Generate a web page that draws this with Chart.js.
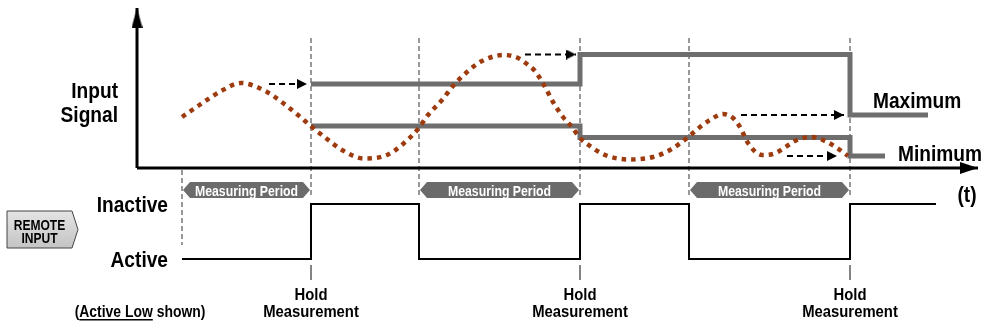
<!DOCTYPE html>
<html>
<head>
<meta charset="utf-8">
<script src="https://cdn.jsdelivr.net/npm/chart.js@4/dist/chart.umd.min.js"></script>
<style>
  html, body { margin: 0; padding: 0; background: #fff; }
</style>
</head>
<body>
<canvas id="chart" width="982" height="328"></canvas>
<script>
// time axis (t) and input signal level
const signalT = [4.5, 6.1, 8.6, 10.4, 13.0, 14.6, 16.1, 17.5, 19.0, 20.5, 22.7, 25.0, 26.6, 28.1, 29.1, 30.5, 31.6, 33.0, 34.5, 36.7, 38.1, 39.0, 39.8, 40.7, 41.6, 42.6, 43.5, 44.3, 45.3, 46.8, 49.2, 51.6, 53.3, 55.0, 56.3, 57.3, 58.6, 59.6, 60.3, 61.1, 62.5, 63.6, 65.0, 66.0, 67.5, 69.0, 70.0, 71.1];
const signalV = [5.1, 6.2, 7.8, 8.5, 7.6, 6.5, 5.3, 4.1, 2.9, 1.8, 0.95, 1.3, 2.4, 3.9, 5.3, 6.8, 8.2, 9.6, 10.7, 11.3, 11.0, 10.4, 9.7, 8.3, 6.6, 5.1, 4.1, 3.0, 2.2, 1.3, 0.85, 1.1, 1.8, 3.0, 4.1, 4.8, 5.4, 5.0, 4.1, 2.5, 1.3, 1.4, 2.2, 2.8, 3.1, 2.6, 2.0, 1.2];

const periodStart = [4.5, 28.2, 55.2];
const periodEnd = [17.4, 44.3, 71.3];

const maxT = [17.4, 44.3, 71.3, 79.1];
const maxV = [8.4, 11.35, 5.3, 5.3];
const minT = [17.4, 44.3, 71.3, 74.8];
const minV = [4.2, 3.05, 1.2, 1.2];

// dashed "carry over" arrows
const arrowFrom = [13.2, 38.8, 60.4, 65.0];
const arrowTo = [17.0, 43.9, 70.7, 70.0];
const arrowLevel = [8.4, 11.35, 5.3, 1.2];

// remote input: 0 = Active, 1 = Inactive
const remoteT = [4.5, 17.4, 28.2, 44.3, 55.2, 71.3, 79.9];
const remoteState = [0, 1, 0, 1, 0, 1, 1];
const remoteLabels = ['Active', 'Inactive'];

const FONT = '"Liberation Sans", Arial, sans-serif';
const GRAY = '#6e6e6e';

function arrowHead(len, half, color) {
  const c = document.createElement('canvas');
  c.width = len * 2;
  c.height = half * 2;
  const g = c.getContext('2d');
  g.fillStyle = color;
  g.beginPath();
  g.moveTo(0, 0);
  g.lineTo(len, half);
  g.lineTo(0, half * 2);
  g.closePath();
  g.fill();
  return c;
}
const headSmall = arrowHead(10, 5, '#000');
const headX = arrowHead(18, 6, '#000');
const headY = arrowHead(20, 5.5, '#000');

const xy = (ts, vs) => ts.map((t, i) => ({ x: t, y: vs[i] }));
const tipOnly = ctx => ctx.dataIndex === ctx.dataset.data.length - 1 ? 6 : 0;

const datasets = [];

datasets.push({
  data: xy(signalT, signalV),
  borderColor: '#9e3b0e',
  borderWidth: 4.5,
  borderDash: [4.5, 5],
  borderCapStyle: 'butt',
  cubicInterpolationMode: 'monotone',
  pointRadius: 0
});
datasets.push({ data: xy(maxT, maxV), stepped: true, borderColor: GRAY, borderWidth: 5, pointRadius: 0, borderJoinStyle: 'miter' });
datasets.push({ data: xy(minT, minV), stepped: true, borderColor: GRAY, borderWidth: 5, pointRadius: 0, borderJoinStyle: 'miter' });

arrowFrom.forEach((f, i) => {
  datasets.push({
    data: [{ x: f, y: arrowLevel[i] }, { x: arrowTo[i], y: arrowLevel[i] }],
    borderColor: '#000',
    borderWidth: 2,
    borderDash: [6, 4],
    pointStyle: headSmall,
    pointRadius: tipOnly
  });
});

datasets.push({
  data: xy(remoteT, remoteState),
  yAxisID: 'y2',
  stepped: true,
  borderColor: '#000',
  borderWidth: 2,
  pointRadius: 0
});

// axes with arrowheads
datasets.push({ data: [{ x: 0, y: 0 }, { x: 0, y: 16.0 }], borderColor: '#000', borderWidth: 3, pointStyle: headY, pointRotation: -90, pointRadius: tipOnly });
datasets.push({ data: [{ x: 0, y: 0 }, { x: 84.1, y: 0 }], borderColor: '#000', borderWidth: 3, pointStyle: headX, pointRadius: tipOnly });

// period boundaries (dashed guides) and hold ticks
periodStart.forEach((t, i) => {
  datasets.push({
    data: i === 0 ? [{ x: t, y: -0.2 }, { x: t, y: -7.7 }] : [{ x: t, y: 13.0 }, { x: t, y: -2.7 }],
    borderColor: '#555', borderWidth: 1.2, borderDash: [5, 3], pointRadius: 0
  });
});
periodEnd.forEach(t => {
  datasets.push({ data: [{ x: t, y: 13.0 }, { x: t, y: -2.7 }], borderColor: '#555', borderWidth: 1.2, borderDash: [5, 3], pointRadius: 0 });
  datasets.push({ data: [{ x: t, y: -9.7 }, { x: t, y: -11.2 }], borderColor: '#333', borderWidth: 1.2, pointRadius: 0 });
});

datasets.forEach((d, i) => { d.order = i; d.fill = false; d.tension = 0; });

// bold text squeezed horizontally to look like Arial Narrow
function label(ctx, s, x, y, align, size, narrow) {
  ctx.save();
  ctx.font = 'bold ' + size + 'px ' + FONT;
  ctx.textAlign = align;
  ctx.translate(x, y);
  ctx.scale(narrow || 0.87, 1);
  ctx.fillText(s, 0, 0);
  ctx.restore();
}

const annotate = {
  id: 'annotate',
  afterDatasetsDraw(chart) {
    const ctx = chart.ctx;
    const X = chart.scales.x, Y = chart.scales.y, Y2 = chart.scales.y2;
    const px = t => X.getPixelForValue(t);
    const py = v => Y.getPixelForValue(v);
    ctx.save();
    ctx.textBaseline = 'alphabetic';

    // measuring period badges
    periodStart.forEach((s, i) => {
      const l = px(s) + 1, r = px(periodEnd[i]) - 1;
      const top = py(-1.4), bot = py(-3.0), mid = (top + bot) / 2, n = 7;
      ctx.fillStyle = '#6b6b6b';
      ctx.beginPath();
      ctx.moveTo(l, mid);
      ctx.lineTo(l + n, top);
      ctx.lineTo(r - n, top);
      ctx.lineTo(r, mid);
      ctx.lineTo(r - n, bot);
      ctx.lineTo(l + n, bot);
      ctx.closePath();
      ctx.fill();
      ctx.fillStyle = '#fff';
      label(ctx, 'Measuring Period', (l + r) / 2, mid + 5.5, 'center', 15, 0.82);
    });

    ctx.fillStyle = '#000';
    label(ctx, 'Input', px(-1.9), py(7.0), 'right', 22);
    label(ctx, 'Signal', px(-1.9), py(4.6), 'right', 22);
    label(ctx, 'Maximum', px(73.6), py(6.0), 'left', 22);
    label(ctx, 'Minimum', px(76.1), py(0.7), 'left', 22);
    label(ctx, '(t)', px(83.0), py(-3.4), 'center', 22);

    remoteLabels.forEach((lab, s) => {
      label(ctx, lab, px(3.1), Y2.getPixelForValue(s) + 8, 'right', 22);
    });

    periodEnd.forEach(t => {
      label(ctx, 'Hold', px(t), py(-13.2), 'center', 16.5, 0.9);
      label(ctx, 'Measurement', px(t), py(-14.9), 'center', 16.5, 0.9);
    });

    // (Active Low shown)
    const nw = 0.87;
    ctx.font = 'bold 16px ' + FONT;
    const parts = ['(', 'Active Low', ' shown)'];
    const w = parts.map(p => ctx.measureText(p).width * nw);
    const x0 = px(0.3) - (w[0] + w[1] + w[2]) / 2;
    const base = py(-14.9);
    label(ctx, parts[0], x0, base, 'left', 16, nw);
    label(ctx, parts[1], x0 + w[0], base, 'left', 16, nw);
    ctx.fillRect(x0 + w[0], base + 2, w[1], 1.5);
    label(ctx, parts[2], x0 + w[0] + w[1], base, 'left', 16, nw);

    // REMOTE INPUT tag
    const bl = px(-13.0), br = px(-6.5), bt = py(-4.3), bb = py(-8.0), tip = px(-5.9);
    const grad = ctx.createLinearGradient(0, bt, 0, bb);
    grad.addColorStop(0, '#e4e4e4');
    grad.addColorStop(1, '#c4c4c4');
    ctx.fillStyle = grad;
    ctx.strokeStyle = '#444';
    ctx.lineWidth = 1;
    ctx.beginPath();
    ctx.moveTo(bl, bt);
    ctx.lineTo(br, bt);
    ctx.lineTo(tip, (bt + bb) / 2);
    ctx.lineTo(br, bb);
    ctx.lineTo(bl, bb);
    ctx.closePath();
    ctx.fill();
    ctx.stroke();
    ctx.fillStyle = '#000';
    label(ctx, 'REMOTE', (bl + br) / 2, py(-6.2), 'center', 14, 0.86);
    label(ctx, 'INPUT', (bl + br) / 2, py(-7.5), 'center', 14, 0.86);

    ctx.restore();
  }
};

new Chart(document.getElementById('chart'), {
  type: 'line',
  data: { datasets },
  options: {
    responsive: false,
    animation: false,
    devicePixelRatio: 1,
    layout: { padding: 0, autoPadding: false },
    plugins: { legend: { display: false }, tooltip: { enabled: false } },
    events: [],
    scales: {
      x: { type: 'linear', display: false, min: -13.7, max: 84.5 },
      y: { type: 'linear', display: false, min: -16, max: 16.8 },
      y2: { type: 'linear', display: false, min: -1.2545, max: 4.7091 }
    }
  },
  plugins: [annotate]
});
</script>
</body>
</html>
